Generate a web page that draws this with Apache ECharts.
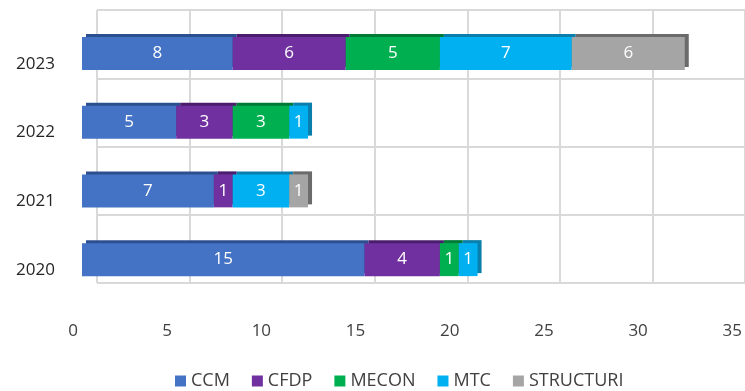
<!DOCTYPE html>
<html>
<head>
<meta charset="utf-8">
<script src="https://cdn.jsdelivr.net/npm/echarts@6/dist/echarts.min.js"></script>
<style>html,body{margin:0;padding:0;background:#fff}#c{width:745px;height:391px}</style>
</head>
<body>
<div id="c"></div>
<script>
const categories = ['2020', '2021', '2022', '2023'];
const seriesNames = ['CCM', 'CFDP', 'MECON', 'MTC', 'STRUCTURI'];
const CCM = [15, 7, 5, 8];
const CFDP = [4, 1, 3, 6];
const MECON = [1, 0, 3, 5];
const MTC = [1, 3, 1, 7];
const STRUCTURI = [0, 1, 0, 6];
const xTicks = [0, 5, 10, 15, 20, 25, 30, 35];

const values = [CCM, CFDP, MECON, MTC, STRUCTURI];
const colors = ['#4472C4', '#7030A0', '#00B050', '#00B0F0', '#A5A5A5'];
const darks = ['#2c4f8f', '#4a1e6d', '#007a37', '#0a7fac', '#6b6b6b'];
const FONT = 'Open Sans';

const chart = echarts.init(document.getElementById('c'));
chart.setOption({
  animation: false,
  textStyle: { fontFamily: FONT },
  grid: [
    { left: 97, top: 10, width: 656, height: 273 },
    { left: 82, top: 19, width: 660, height: 275 }
  ],
  xAxis: [
    { gridIndex: 0, type: 'value', min: xTicks[0], max: xTicks[xTicks.length - 1], interval: 5,
      axisLabel: { show: false }, axisLine: { show: false }, axisTick: { show: false },
      splitLine: { show: true, lineStyle: { color: '#d9d9d9', width: 2 } } },
    { gridIndex: 1, type: 'value', min: xTicks[0], max: xTicks[xTicks.length - 1], interval: 5,
      axisLine: { show: false }, axisTick: { show: false }, splitLine: { show: false },
      axisLabel: { color: '#404040', fontSize: 17, margin: 29, padding: [0, 18, 0, 0], fontFamily: FONT } }
  ],
  yAxis: [
    { gridIndex: 0, type: 'value', min: 0, max: 4, interval: 1,
      axisLabel: { show: false }, axisLine: { show: false }, axisTick: { show: false },
      splitLine: { show: true, lineStyle: { color: '#d9d9d9', width: 2 } } },
    { gridIndex: 1, type: 'category', data: categories,
      axisLine: { show: false }, axisTick: { show: false }, splitLine: { show: false },
      axisLabel: { color: '#262626', fontSize: 17, margin: 27, verticalAlign: 'top', lineHeight: 21, fontFamily: FONT } }
  ],
  legend: {
    bottom: -4, left: 170, icon: 'rect', itemWidth: 11, itemHeight: 11, itemGap: 22,
    textStyle: { color: '#404040', fontSize: 18, fontFamily: FONT },
    data: seriesNames
  },
  series: seriesNames.map((name, i) => ({
    name: name,
    type: 'bar',
    stack: 'total',
    xAxisIndex: 1,
    yAxisIndex: 1,
    barWidth: 33,
    data: values[i],
    itemStyle: {
      color: colors[i],
      shadowColor: darks[i],
      shadowBlur: 0,
      shadowOffsetX: 4,
      shadowOffsetY: -3
    },
    label: {
      show: true,
      position: 'inside',
      color: '#ffffff',
      fontSize: 17,
      fontFamily: FONT,
      formatter: p => (p.value ? String(p.value) : '')
    }
  }))
});
</script>
</body>
</html>
